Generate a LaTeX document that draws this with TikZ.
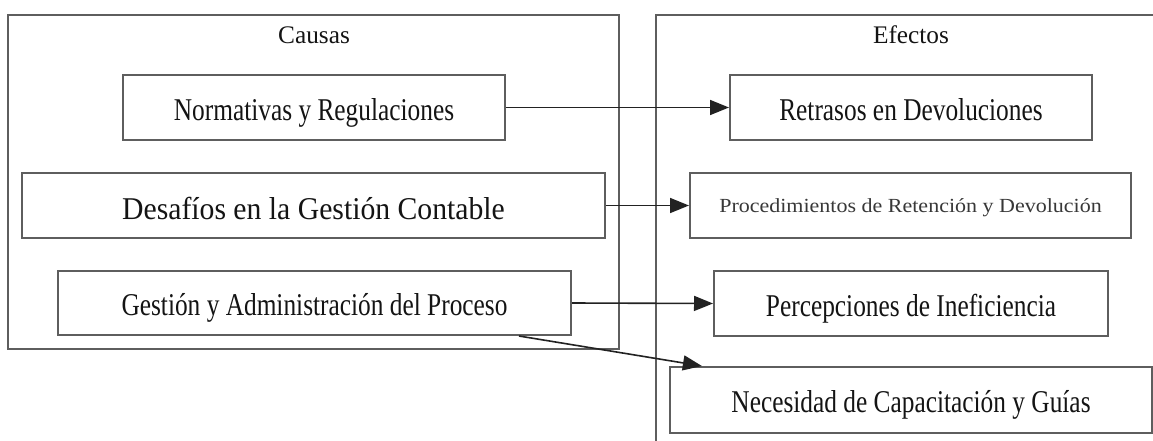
\documentclass[tikz,border=0pt]{standalone}
\usepackage{fontspec}
\setmainfont{Liberation Serif}
\usetikzlibrary{arrows.meta,calc}
\definecolor{boxline}{HTML}{5E5E5E}
\definecolor{arrline}{HTML}{222222}
\newcommand{\narrowtext}[2][0.8]{\scalebox{#1}[1]{#2}}
\tikzset{
  cluster/.style={draw=boxline, line width=2pt, inner sep=0pt, fill=none},
  causebox/.style={draw=boxline, line width=2pt, inner sep=0pt, fill=white,
    font=\fontsize{31.7}{36}\selectfont, text height=21pt, text depth=0pt,
    text=black!92},
  lbl/.style={inner sep=0pt, anchor=base, font=\fontsize{25.3}{30}\selectfont, text=black!92},
  arr/.style={draw=arrline, line width=1.6pt, -{Triangle[length=19pt,width=15pt]}}
}
\begin{document}
\begin{tikzpicture}[x=1pt,y=-1pt]
\useasboundingbox (0,0) rectangle (1153,441);
\fill[white] (0,0) rectangle (1153,441);
\clip (0,0) rectangle (1153,441);
% clusters
\node[cluster, minimum width=611pt, minimum height=334pt] (causas) at (313.5,182) {};
\node[cluster, minimum width=520pt, minimum height=460pt] (efectos) at (916,245) {};
\node[lbl] (causaslbl) at (314,44) {Causas};
\node[lbl] (efectoslbl) at (911,44) {Efectos};
% cause boxes
\node[causebox, minimum width=382pt, minimum height=65pt] (norm) at (314,107.5)
  {\raisebox{-2pt}{\narrowtext{Normativas y Regulaciones}}};
\node[causebox, minimum width=583pt, minimum height=65pt] (desa) at (313.5,205.5)
  {\raisebox{-3pt}{\narrowtext[0.937]{Desafíos en la Gestión Contable}}};
\node[causebox, minimum width=513pt, minimum height=64pt] (gest) at (314.5,303)
  {\raisebox{-2pt}{\narrowtext{Gestión y Administración del Proceso}}};
% effect boxes
\node[causebox, minimum width=362pt, minimum height=65pt] (retr) at (911,107.5)
  {\raisebox{-2pt}{\narrowtext{Retrasos en Devoluciones}}};
\node[causebox, minimum width=441pt, minimum height=65pt, font=\fontsize{20}{24}\selectfont,
  text height=13pt, text=black!78] (proc) at (910.5,205.5)
  {\raisebox{-0.5pt}{\narrowtext[1.1]{Procedimientos de Retención y Devolución}}};
\node[causebox, minimum width=394pt, minimum height=65pt] (perc) at (911,303.5)
  {\raisebox{-2pt}{\narrowtext{Percepciones de Ineficiencia}}};
\node[causebox, minimum width=482pt, minimum height=66pt] (nece) at (911,400)
  {\raisebox{-2pt}{\narrowtext{Necesidad de Capacitación y Guías}}};
% connectors
\draw[arr] (norm.east) -- (retr.west);
\draw[arr] (desa.east) -- (proc.west);
\draw[arr] (gest.east) -- (perc.west);
\coordinate (gs) at ($(gest.south west)!0.897!(gest.south east)$);
\coordinate (nt) at ($(nece.north west)!0.068!(nece.north east)$);
\draw[arr] (gs) -- (nt);
\end{tikzpicture}
\end{document}
